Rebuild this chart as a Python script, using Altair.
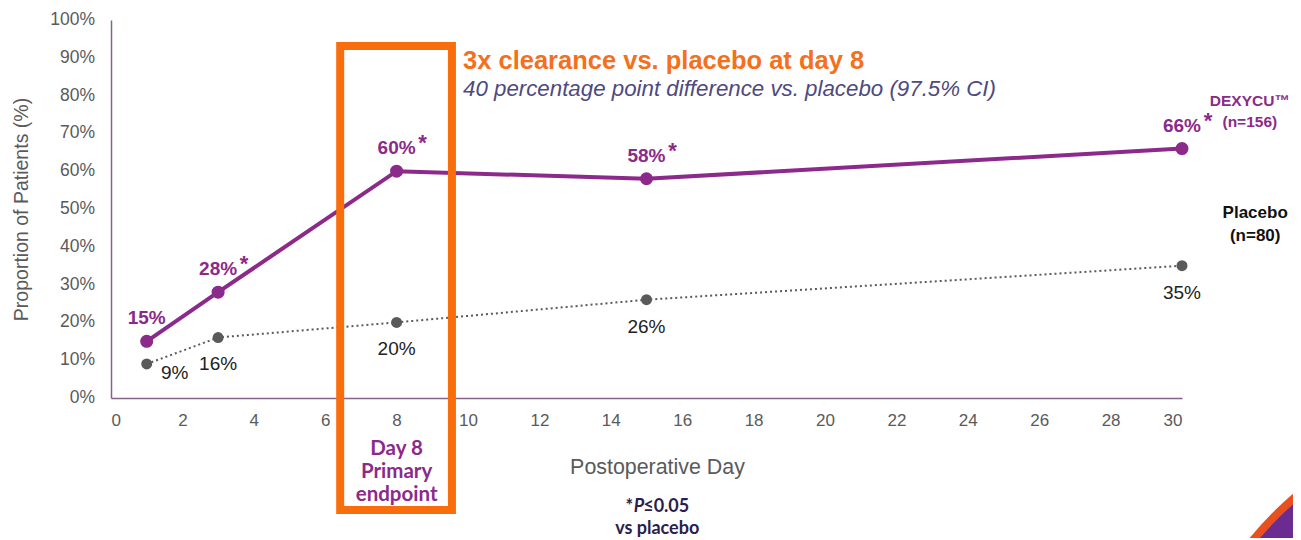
import altair as alt
import pandas as pd

# ---- data ----
days = [1, 3, 8, 15, 30]
dexycu = [0.15, 0.28, 0.60, 0.58, 0.66]
placebo = [0.09, 0.16, 0.20, 0.26, 0.35]
dexycu_labels = ["15%", "28%", "60%", "58%", "66%"]
placebo_labels = ["9%", "16%", "20%", "26%", "35%"]
dexycu_sig = ["", "*", "*", "*", "*"]
y_ticks = [0.0, 0.1, 0.2, 0.3, 0.4, 0.5, 0.6, 0.7, 0.8, 0.9, 1.0]
y_tick_labels = ["0%", "10%", "20%", "30%", "40%", "50%", "60%", "70%", "80%", "90%", "100%"]
x_ticks = list(range(0, 31, 2))

PURPLE = "#8B2A8B"
ORANGE = "#F86E0C"
ORANGE_TXT = "#F4701C"
SLATE = "#4E4A80"
GREY = "#5A5A5A"
AXIS = "#86628A"
FONT = "Liberation Sans"
CAL = "Lato"

dex = pd.DataFrame({"day": days, "v": dexycu, "lab": dexycu_labels, "sig": dexycu_sig})
plc = pd.DataFrame({"day": days, "v": placebo, "lab": placebo_labels})
plc["dx"] = [28, 0, 0, 0, 0]
plc["dy"] = [9, 26, 27, 27, 27]
ytk = pd.DataFrame({"day": [0] * len(y_ticks), "v": y_ticks, "lab": y_tick_labels})

xsc = alt.Scale(domain=[0, 30], nice=False, zero=False)
ysc = alt.Scale(domain=[0, 1], nice=False)

X = alt.X("day:Q", scale=xsc,
          axis=alt.Axis(title="Postoperative Day", values=x_ticks, grid=False,
                        ticks=False, labelPadding=14, labelFontSize=17, labelColor=GREY,
                        labelFont=FONT, titleFont=FONT, titleFontSize=21.4, titleColor=GREY,
                        titleFontWeight="normal", titlePadding=28, titleX=546, titleAlign="center",
                        domainColor=AXIS, domainWidth=1.5, labelOverlap=False))
Y = alt.Y("v:Q", scale=ysc,
          axis=alt.Axis(title="Proportion of Patients (%)", values=y_ticks, grid=False,
                        ticks=False, labels=True, labelOpacity=0, labelPadding=16,
                        labelFontSize=17.5, labelFont=FONT, format=".0%",
                        titleFont=FONT, titleFontSize=19.5, titleColor=GREY,
                        titleFontWeight="normal", titlePadding=19, domainColor=AXIS,
                        domainWidth=1.5))

base_d = alt.Chart(dex)
base_p = alt.Chart(plc)

# y tick labels drawn through the y scale
y_lab = alt.Chart(ytk).mark_text(font=FONT, fontSize=17.5, color=GREY, align="right",
                                 baseline="middle", dx=-16).encode(x=X, y=Y, text="lab:N")

# corner decoration (big circles mostly off the page)
deco = alt.Chart(pd.DataFrame({"x": [39.47], "y": [-0.958]}))
deco_o = deco.mark_arc(radius=350, theta=0, theta2=6.2832, color="#E8501E").encode(x="x:Q", y="y:Q")
deco_p = deco.mark_arc(radius=342, theta=0, theta2=6.2832, color="#6A2C91").encode(x="x:Q", y="y:Q")

p_line = base_p.mark_line(color=GREY, strokeDash=[2, 3], strokeWidth=2).encode(x=X, y=Y)
p_pts = base_p.mark_circle(color=GREY, size=120, opacity=1).encode(x=X, y=Y)
p_lab = alt.layer(*[
    alt.Chart(plc.iloc[[i]]).mark_text(font=FONT, fontSize=19, color="#222222",
                                       baseline="middle", dx=int(plc.dx[i]), dy=int(plc.dy[i]))
    .encode(x=X, y=Y, text="lab:N")
    for i in range(len(plc))
])

d_line = base_d.mark_line(color=PURPLE, strokeWidth=4).encode(x=X, y=Y)
d_pts = base_d.mark_circle(color=PURPLE, size=170, opacity=1).encode(x=X, y=Y)
d_lab = base_d.mark_text(font=FONT, fontSize=19, fontWeight="bold", color=PURPLE,
                         baseline="middle", dy=-23).encode(x=X, y=Y, text="lab:N")
d_sig = base_d.mark_text(font=FONT, fontSize=22, fontWeight="bold", color=PURPLE,
                         baseline="middle", dx=26, dy=-28).encode(x=X, y=Y, text="sig:N")

# orange highlight box around day 8
box = alt.Chart(pd.DataFrame({"x1": [6.42], "x2": [9.55], "y1": [0.931], "y2": [-0.296]})).mark_rect(
    fill="white", fillOpacity=0, stroke=ORANGE, strokeWidth=8).encode(
    x="x1:Q", x2="x2:Q", y="y1:Q", y2="y2:Q")


def txt(df, **kw):
    return alt.Chart(pd.DataFrame(df)).mark_text(**kw).encode(x="x:Q", y="y:Q", text="t:N")


head1 = txt({"x": [9.86], "y": [0.892], "t": ["3x clearance vs. placebo at day 8"]},
            font=FONT, fontSize=25.5, fontWeight="bold", color=ORANGE_TXT, align="left", baseline="middle")
head2 = txt({"x": [9.86], "y": [0.818], "t": ["40 percentage point difference vs. placebo (97.5% CI)"]},
            font=FONT, fontSize=22.3, fontStyle="italic", color=SLATE, align="left", baseline="middle")
leg_d = txt({"x": [31.9, 31.9], "y": [0.787, 0.730], "t": ["DEXYCU™", "(n=156)"]},
            font=FONT, fontSize=15.5, fontWeight="bold", color=PURPLE, align="center", baseline="middle")
leg_p = txt({"x": [32.05, 32.05], "y": [0.490, 0.429], "t": ["Placebo", "(n=80)"]},
            font=FONT, fontSize=17, fontWeight="bold", color="#111111", align="center", baseline="middle")
day8 = txt({"x": [8, 8, 8], "y": [-0.136, -0.197, -0.257], "t": ["Day 8", "Primary", "endpoint"]},
           font=CAL, fontSize=20.5, fontWeight="bold", color=PURPLE, align="center", baseline="middle")
foot1a = txt({"x": [15.3], "y": [-0.289], "t": ["*"]},
             font=CAL, fontSize=18, fontWeight="bold", color="#2B1E4E", align="right",
             baseline="middle", dx=-24)
foot1b = txt({"x": [15.3], "y": [-0.289], "t": ["P"]},
             font=CAL, fontSize=18, fontWeight="bold", fontStyle="italic", color="#2B1E4E",
             align="right", baseline="middle", dx=-13)
foot1c = txt({"x": [15.3], "y": [-0.289], "t": ["≤0.05"]},
             font=CAL, fontSize=18, fontWeight="bold", color="#2B1E4E", align="left",
             baseline="middle", dx=-14)
foot2 = txt({"x": [15.3], "y": [-0.347], "t": ["vs placebo"]},
            font=CAL, fontSize=18, fontWeight="bold", color="#2B1E4E", align="center",
            baseline="middle")

chart = alt.layer(
    deco_o, deco_p, p_line, y_lab, p_pts, p_lab, d_line, d_pts, d_lab, d_sig, box,
    head1, head2, leg_d, leg_p, day8, foot1a, foot1b, foot1c, foot2
).properties(
    width=1071, height=378,
    autosize=alt.AutoSizeParams(type="none"),
    padding={"left": 103, "top": 12, "right": 111, "bottom": 140},
).configure(background="white").configure_view(strokeWidth=0, stroke="transparent")

chart.save("out.html", embed_options={"renderer": "svg", "actions": False})
